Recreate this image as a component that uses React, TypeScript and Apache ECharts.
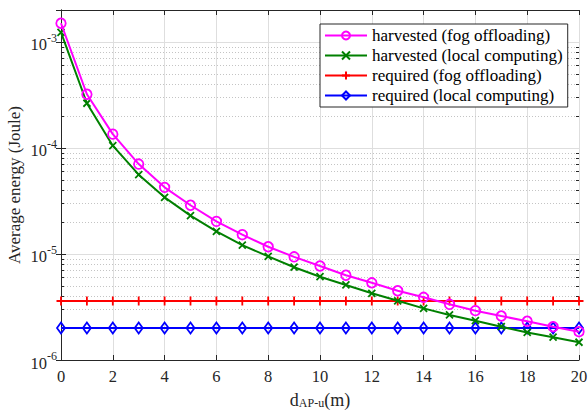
import React, { useEffect, useRef } from "react";
import * as echarts from "echarts";

// distance AP–user (m)
const distances = [0, 1, 2, 3, 4, 5, 6, 7, 8, 9, 10, 11, 12, 13, 14, 15, 16, 17, 18, 19, 20];

// average energy (Joule)
const harvestedFog = [
  1.5e-3, 3.21e-4, 1.35e-4, 7.05e-5, 4.25e-5, 2.88e-5, 2.03e-5, 1.52e-5, 1.17e-5, 9.4e-6,
  7.7e-6, 6.3e-6, 5.35e-6, 4.5e-6, 3.9e-6, 3.35e-6, 2.92e-6, 2.6e-6, 2.32e-6, 2.06e-6, 1.85e-6,
];
const harvestedLocal = [
  1.23e-3, 2.64e-4, 1.05e-4, 5.6e-5, 3.42e-5, 2.3e-5, 1.63e-5, 1.21e-5, 9.5e-6, 7.5e-6,
  6.1e-6, 5.1e-6, 4.26e-6, 3.62e-6, 3.07e-6, 2.66e-6, 2.35e-6, 2.06e-6, 1.82e-6, 1.64e-6, 1.47e-6,
];
const requiredFog = [
  3.6e-6, 3.6e-6, 3.6e-6, 3.6e-6, 3.6e-6, 3.6e-6, 3.6e-6, 3.6e-6, 3.6e-6, 3.6e-6,
  3.6e-6, 3.6e-6, 3.6e-6, 3.6e-6, 3.6e-6, 3.6e-6, 3.6e-6, 3.6e-6, 3.6e-6, 3.6e-6, 3.6e-6,
];
const requiredLocal = [
  2.0e-6, 2.0e-6, 2.0e-6, 2.0e-6, 2.0e-6, 2.0e-6, 2.0e-6, 2.0e-6, 2.0e-6, 2.0e-6,
  2.0e-6, 2.0e-6, 2.0e-6, 2.0e-6, 2.0e-6, 2.0e-6, 2.0e-6, 2.0e-6, 2.0e-6, 2.0e-6, 2.0e-6,
];

const seriesNames = [
  "harvested (fog offloading)",
  "harvested (local computing)",
  "required (fog offloading)",
  "required (local computing)",
];

// axis ranges
const X_MIN = 0;
const X_MAX = 20;
const X_STEP = 2;
const Y_MIN = 1e-6;
const Y_MAX = 2e-3;

// minor log gridlines (2..9 × each decade)
const minorMantissas = [2, 3, 4, 5, 6, 7, 8, 9];
const minorDecades = [-6, -5, -4];

const FONT = "'Liberation Serif', 'Times New Roman', serif";
const AXIS_COLOR = "#262626";

export default function App() {
  const ref = useRef<HTMLDivElement>(null);

  useEffect(() => {
    if (!ref.current) return;
    const chart = echarts.init(ref.current, null, { renderer: "svg" });

    const minorValues: number[] = [];
    minorDecades.forEach((d) =>
      minorMantissas.forEach((m) => minorValues.push(m * Math.pow(10, d)))
    );

    const pairs = (ys: number[]) => distances.map((x, i) => [x, ys[i]]);

    const logLabel = (v: number) => {
      const lg = Math.log10(v);
      const e = Math.round(lg);
      if (Math.abs(lg - e) > 1e-6) return "";
      return `{b|10}{e|${e}}`;
    };

    const gridStyle = { color: "#dedede", width: 1 };

    chart.setOption({
      animation: false,
      backgroundColor: "#fff",
      textStyle: { fontFamily: FONT },
      grid: {
        left: 61,
        right: 9,
        top: 10,
        bottom: 53,
        containLabel: false,
        outerBoundsMode: "none",
      },
      legend: {
        left: 320,
        top: 24,
        orient: "vertical",
        itemWidth: 42,
        itemHeight: 10,
        itemGap: 3,
        padding: [3, 5, 3, 4],
        borderColor: AXIS_COLOR,
        borderWidth: 1,
        borderRadius: 0,
        backgroundColor: "#fff",
        textStyle: { fontFamily: FONT, fontSize: 17, color: "#000" },
        data: seriesNames,
      },
      xAxis: [
        {
          type: "value",
          min: X_MIN,
          max: X_MAX,
          interval: X_STEP,
          position: "bottom",
          axisLine: { lineStyle: { color: AXIS_COLOR, width: 1 } },
          axisTick: { inside: true, length: 5, lineStyle: { color: AXIS_COLOR } },
          axisLabel: { fontFamily: FONT, fontSize: 16.5, color: AXIS_COLOR, margin: 8 },
          splitLine: { show: true, lineStyle: gridStyle },
          name: "{d|d}{s|AP-u}{d|(m)}",
          nameLocation: "middle",
          nameGap: 27,
          nameMoveOverlap: false,
          nameTextStyle: {
            fontFamily: FONT,
            color: AXIS_COLOR,
            rich: {
              d: { fontFamily: FONT, fontSize: 18, color: AXIS_COLOR, verticalAlign: "bottom", lineHeight: 22 },
              s: { fontFamily: FONT, fontSize: 12, color: AXIS_COLOR, verticalAlign: "bottom", lineHeight: 13 },
            },
          },
        },
        {
          type: "value",
          min: X_MIN,
          max: X_MAX,
          interval: X_STEP,
          position: "top",
          axisLine: { lineStyle: { color: AXIS_COLOR, width: 1 } },
          axisTick: { inside: true, length: 5, lineStyle: { color: AXIS_COLOR } },
          axisLabel: { show: false },
          splitLine: { show: false },
        },
      ],
      yAxis: [
        {
          type: "log",
          logBase: 10,
          min: Y_MIN,
          max: Y_MAX,
          position: "left",
          axisLine: { lineStyle: { color: AXIS_COLOR, width: 1 } },
          axisTick: { inside: true, length: 5, lineStyle: { color: AXIS_COLOR } },
          axisLabel: {
            formatter: logLabel,
            margin: 4,
            rich: {
              b: { fontFamily: FONT, fontSize: 16.5, color: AXIS_COLOR, lineHeight: 20, padding: [6, 0, 0, 0] },
              e: { fontFamily: FONT, fontSize: 12, color: AXIS_COLOR, verticalAlign: "top", lineHeight: 11, padding: [0, 0, 8, 0] },
            },
          },
          splitLine: { show: true, lineStyle: gridStyle },
          name: "Average energy (Joule)",
          nameLocation: "middle",
          nameRotate: 90,
          nameGap: 38,
          nameMoveOverlap: false,
          nameTextStyle: { fontFamily: FONT, fontSize: 17, color: AXIS_COLOR },
        },
        {
          type: "log",
          logBase: 10,
          min: Y_MIN,
          max: Y_MAX,
          position: "right",
          axisLine: { lineStyle: { color: AXIS_COLOR, width: 1 } },
          axisTick: { inside: true, length: 5, lineStyle: { color: AXIS_COLOR } },
          axisLabel: { show: false },
          splitLine: { show: false },
        },
      ],
      series: [
        {
          type: "custom",
          name: "minor grid",
          silent: true,
          z: 1,
          xAxisIndex: 0,
          yAxisIndex: 0,
          clip: false,
          data: minorValues.map((v) => [X_MIN, v]),
          renderItem: (_params: any, api: any) => {
            const v = api.value(1);
            const a = api.coord([X_MIN, v]);
            const b = api.coord([X_MAX, v]);
            const y = Math.round(a[1]) + 0.5;
            return {
              type: "group",
              children: [
                {
                  type: "line",
                  shape: { x1: a[0], y1: y, x2: b[0], y2: y },
                  style: { stroke: "#c4c4c4", lineWidth: 1, lineDash: [1, 2] },
                },
                {
                  type: "line",
                  shape: { x1: a[0], y1: y, x2: a[0] + 3, y2: y },
                  style: { stroke: AXIS_COLOR, lineWidth: 1 },
                },
                {
                  type: "line",
                  shape: { x1: b[0] - 3, y1: y, x2: b[0], y2: y },
                  style: { stroke: AXIS_COLOR, lineWidth: 1 },
                },
              ],
            };
          },
        },
        {
          type: "line",
          name: seriesNames[0],
          z: 5,
          data: pairs(harvestedFog),
          symbol: "circle",
          symbolSize: 9.5,
          showAllSymbol: true,
          lineStyle: { color: "#ff00ff", width: 2 },
          itemStyle: { color: "rgba(255,255,255,0)", borderColor: "#ff00ff", borderWidth: 1.8 },
        },
        {
          type: "line",
          name: seriesNames[1],
          z: 4,
          data: pairs(harvestedLocal),
          symbol: "path://M0,0L10,10M10,0L0,10",
          symbolSize: 7,
          showAllSymbol: true,
          lineStyle: { color: "#008000", width: 2 },
          itemStyle: { color: "#008000", borderColor: "#008000", borderWidth: 1.8 },
        },
        {
          type: "line",
          name: seriesNames[2],
          z: 3,
          data: pairs(requiredFog),
          symbol: "path://M5,0L5,10M0,5L10,5",
          symbolSize: 9,
          showAllSymbol: true,
          lineStyle: { color: "#ff0000", width: 2 },
          itemStyle: { color: "#ff0000", borderColor: "#ff0000", borderWidth: 1.8 },
        },
        {
          type: "line",
          name: seriesNames[3],
          z: 3,
          data: pairs(requiredLocal),
          symbol: "diamond",
          symbolSize: [8, 11],
          showAllSymbol: true,
          lineStyle: { color: "#0000ff", width: 2 },
          itemStyle: { color: "rgba(255,255,255,0)", borderColor: "#0000ff", borderWidth: 1.8 },
        },
      ],
    });

    return () => chart.dispose();
  }, []);

  return (
    <div
      ref={ref}
      style={{ position: "absolute", left: 0, top: 0, width: 588, height: 413 }}
    />
  );
}
